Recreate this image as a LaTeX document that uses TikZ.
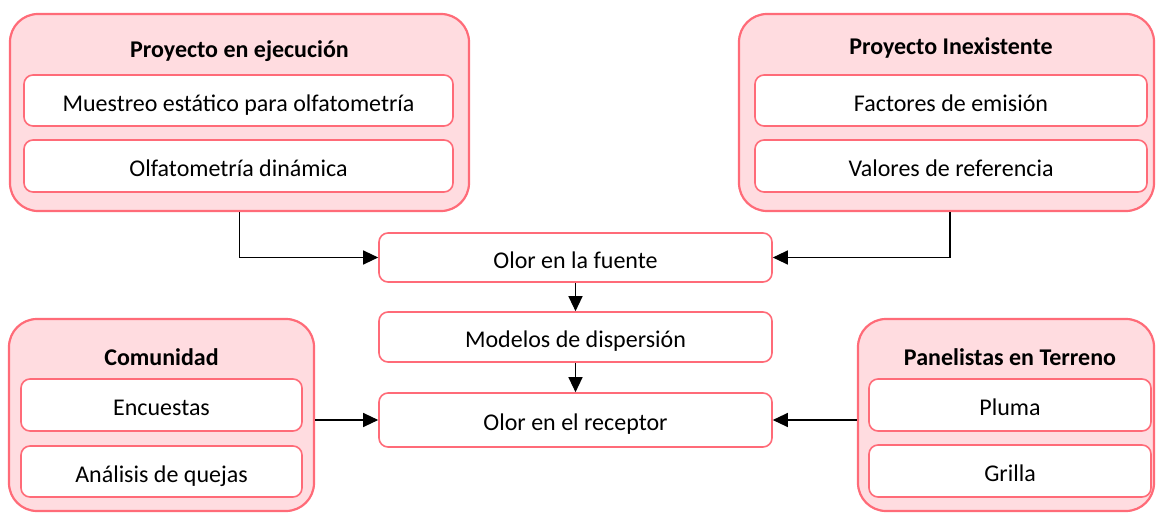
\documentclass[tikz,border=0pt]{standalone}
\usepackage{fontspec}
\setmainfont{Carlito}
\usetikzlibrary{arrows.meta}

\definecolor{rosa}{HTML}{FF6B78}
\definecolor{rosaclaro}{HTML}{FFDCE0}

\tikzset{
    grupo/.style={draw=rosa, fill=rosaclaro, line width=2.2pt, rounded corners=28pt},
    item/.style={draw=rosa, fill=white, line width=1.6pt, rounded corners=9pt, font=\fontsize{24}{28}\selectfont, text height=26.5pt, text depth=5pt},
    titulo/.style={font=\fontsize{24}{28}\selectfont\bfseries},
    flecha/.style={line width=1.2pt, -{Triangle[length=15pt,width=14pt]}}
}

\begin{document}
\begin{tikzpicture}[x=1pt, y=-1pt]
    \useasboundingbox (0,0) rectangle (1156,513);
    % grupos
    \node[grupo, minimum width=459, minimum height=197] (ejec) at (239.5, 112.5) {};
        \node[titulo] (tejec) at (239.5, 51) {Proyecto en ejecución};
        \node[item, minimum width=429, minimum height=51] (muestreo) at (238.5, 100.5) {Muestreo estático para olfatometría};
        \node[item, minimum width=429, minimum height=52] (olfdin) at (238.5, 166) {Olfatometría dinámica};
    \node[grupo, minimum width=415, minimum height=197] (inex) at (946.5, 112.5) {};
        \node[titulo] (tinex) at (951, 48) {Proyecto Inexistente};
        \node[item, minimum width=392, minimum height=51] (factores) at (951, 100.5) {Factores de emisión};
        \node[item, minimum width=392, minimum height=52] (valores) at (951, 166) {Valores de referencia};
    \node[grupo, minimum width=305, minimum height=192] (comu) at (161.5, 415) {};
        \node[titulo] (tcomu) at (161.5, 357) {Comunidad};
        \node[item, minimum width=281, minimum height=52] (encuestas) at (161.5, 405) {Encuestas};
        \node[item, minimum width=281, minimum height=51] (quejas) at (161.5, 471.5) {Análisis de quejas};
    \node[grupo, minimum width=296, minimum height=192] (pane) at (1006, 415) {};
        \node[titulo] (tpane) at (1010, 357) {Panelistas en Terreno};
        \node[item, minimum width=282, minimum height=52] (pluma) at (1010, 405) {Pluma};
        \node[item, minimum width=282, minimum height=52] (grilla) at (1010, 471) {Grilla};
    % centro
    \node[item, minimum width=393, minimum height=49] (fuente) at (575.5, 257.5) {Olor en la fuente};
    \node[item, minimum width=393, minimum height=50] (modelos) at (575.5, 337) {Modelos de dispersión};
    \node[item, minimum width=393, minimum height=54] (receptor) at (575.5, 420) {Olor en el receptor};
    % flechas
    \draw[flecha] (ejec.south) |- (fuente.west);
    \draw[flecha] ([xshift=3.5pt]inex.south) |- (fuente.east);
    \draw[flecha] (fuente) -- (modelos);
    \draw[flecha] (modelos) -- (receptor);
    \draw[flecha] (comu.east |- receptor) -- (receptor.west);
    \draw[flecha] (pane.west |- receptor) -- (receptor.east);
\end{tikzpicture}
\end{document}
